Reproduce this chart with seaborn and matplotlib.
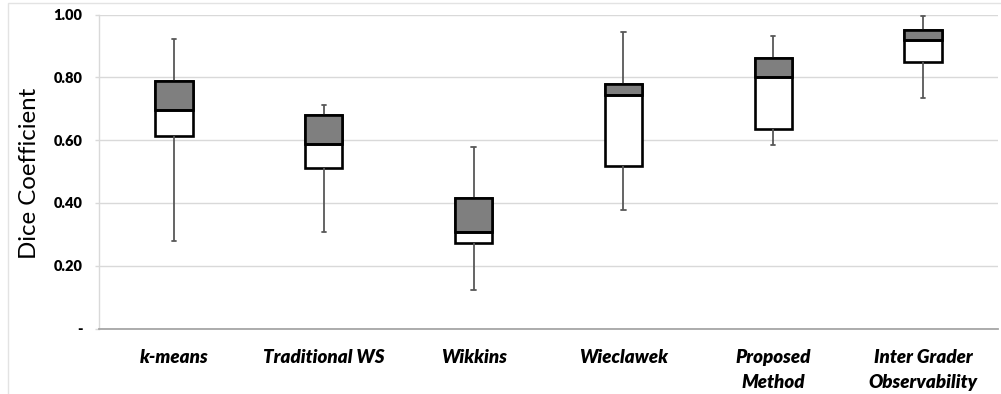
import numpy as np
import pandas as pd
import matplotlib
matplotlib.use("Agg")
import matplotlib.pyplot as plt
from matplotlib.patches import Rectangle
import seaborn as sns

# Five-number summaries of the Dice coefficient per segmentation method
methods = ["k-means", "Traditional WS", "Wikkins", "Wieclawek",
           "Proposed\nMethod", "Inter Grader\nObservability"]
whisker_low = [0.279, 0.308, 0.123, 0.377, 0.583, 0.734]
quartile_1 = [0.614, 0.512, 0.271, 0.519, 0.636, 0.850]
median = [0.696, 0.587, 0.307, 0.743, 0.801, 0.919]
quartile_3 = [0.789, 0.681, 0.415, 0.779, 0.862, 0.951]
whisker_high = [0.923, 0.712, 0.579, 0.943, 0.930, 0.994]

y_ticks = [0.0, 0.2, 0.4, 0.6, 0.8, 1.0]
y_tick_labels = ["-", "0.20", "0.40", "0.60", "0.80", "1.00"]

# Long-form table: with five values per method, the 25/50/75th percentiles
# are exactly Q1 / median / Q3, and whis=(0, 100) puts whiskers at min / max.
rows = []
for i, m in enumerate(methods):
    for v in (whisker_low[i], quartile_1[i], median[i], quartile_3[i], whisker_high[i]):
        rows.append({"method": m, "dice": v})
df = pd.DataFrame(rows)

sns.set_theme(style="white")
plt.rcParams["font.family"] = ["Lato", "DejaVu Sans"]

W, H, DPI = 1001, 394, 100
fig = plt.figure(figsize=(W / DPI, H / DPI), dpi=DPI)
ax = fig.add_axes([99 / W, (H - 328.5) / H, 899 / W, 314 / H])

box_lw = 1.9
whisk_color = "#585858"

sns.boxplot(
    data=df, x="method", y="dice", order=methods, ax=ax,
    width=0.25, whis=(0, 100), showfliers=False,
    color="white", linecolor="black", linewidth=box_lw,
    whiskerprops=dict(color=whisk_color, linewidth=1.3),
    capprops=dict(color=whisk_color, linewidth=1.3),
    medianprops=dict(color="black", linewidth=box_lw),
    capwidths=0.03,
)

# Upper half of each box (median to Q3) shaded grey
ax.bar(np.arange(len(methods)), np.subtract(quartile_3, median), bottom=median,
       width=0.25, color="#7f7f7f", edgecolor="black", linewidth=box_lw,
       zorder=2.05)

ax.set_xlim(-0.5, len(methods) - 0.5)
ax.set_ylim(0, 1.0)
ax.set_yticks(y_ticks)
ax.set_yticklabels(y_tick_labels)
ax.set_xlabel("")
ax.set_ylabel("")

ax.yaxis.grid(True, color="#d9d9d9", linewidth=1.0)
ax.set_axisbelow(True)

for side in ("top", "right"):
    ax.spines[side].set_visible(False)
ax.spines["left"].set_color("#d9d9d9")
ax.spines["left"].set_linewidth(1.0)
ax.spines["bottom"].set_color("#a6a6a6")
ax.spines["bottom"].set_linewidth(1.3)

ax.tick_params(axis="y", left=True, length=3, width=1.0, color="#d9d9d9",
               pad=9.0, labelsize=10.5, labelcolor="black")
ax.tick_params(axis="x", bottom=False, length=0, pad=15, labelsize=13.5,
               labelcolor="black")
for lab in ax.get_yticklabels():
    lab.set_fontweight("heavy")
for lab in ax.get_xticklabels():
    lab.set_fontweight("heavy")
    lab.set_fontstyle("italic")
    lab.set_linespacing(1.55)

fig.text(30 / W, (H - 173.5) / H, "Dice Coefficient", rotation=90,
         ha="center", va="center", fontsize=17.3, color="black")

# Light outline of the chart area
fig.add_artist(Rectangle((7.5 / W, -0.1), 1.2, (H - 2.5) / H + 0.1,
                         transform=fig.transFigure, fill=False,
                         edgecolor="#e3e3e3", linewidth=1.0))

fig.savefig("out.png", dpi=DPI)
